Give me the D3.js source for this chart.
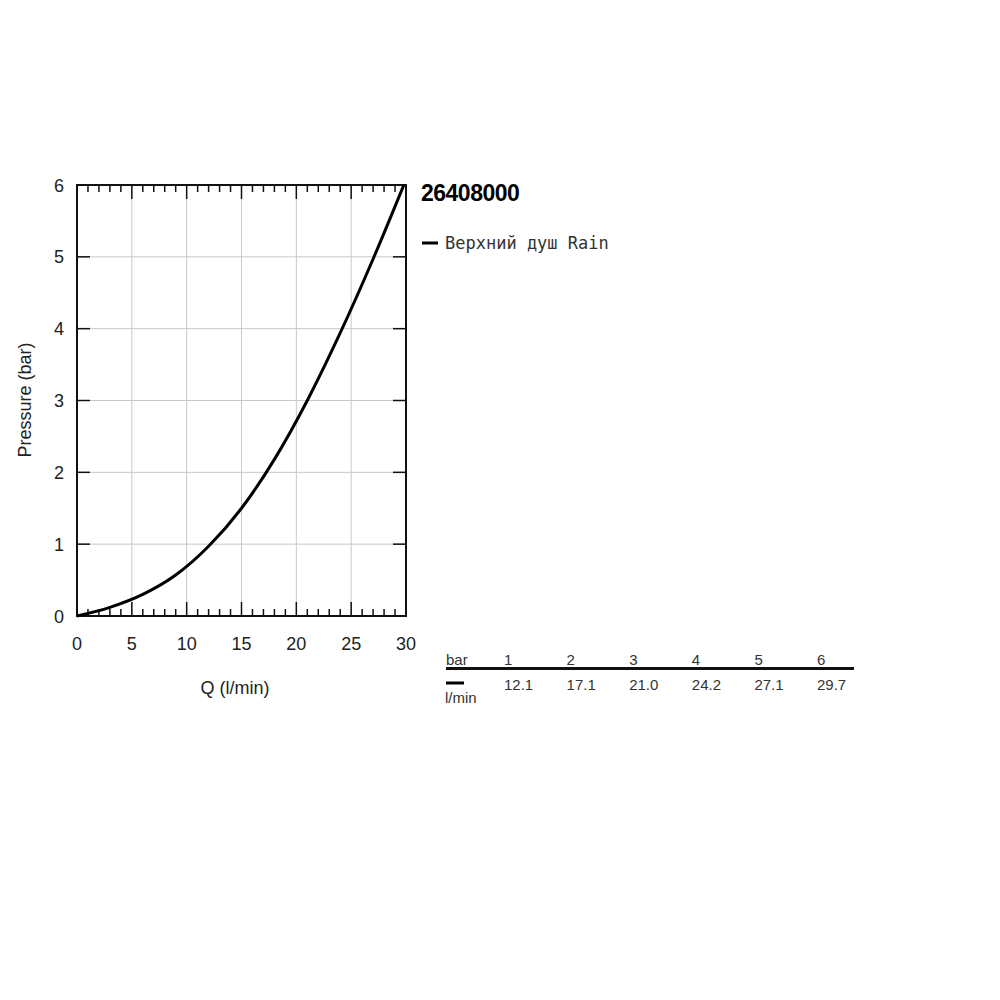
<!DOCTYPE html>
<html>
<head>
<meta charset="utf-8">
<script src="https://cdn.jsdelivr.net/npm/d3@7"></script>
<style>
  body { margin: 0; background: #fff; }
  svg text { font-family: "Liberation Sans", Arial, sans-serif; }
</style>
</head>
<body>
<svg id="chart" width="1000" height="1000"></svg>
<script>
// curve (Q in l/min, pressure in bar)
var flowQ = [0, 3, 6, 9, 12, 15, 18, 21, 24, 27, 29.8];
var pressure = [0, 0.12, 0.30, 0.57, 0.97, 1.50, 2.18, 3.0, 3.94, 4.97, 6];

// table under the legend
var tableBar = ["1", "2", "3", "4", "5", "6"];
var tableFlow = ["12.1", "17.1", "21.0", "24.2", "27.1", "29.7"];

var xTicks = [0, 5, 10, 15, 20, 25, 30];
var yTicks = [0, 1, 2, 3, 4, 5, 6];

var svg = d3.select("#chart");
var pL = 77, pR = 406, pT = 185, pB = 616;

var x = d3.scaleLinear().domain([0, 30]).range([pL, pR]);
var y = d3.scaleLinear().domain([0, 6]).range([pB, pT]);

// grid
svg.append("g").selectAll("line")
  .data(xTicks.slice(1, -1)).enter().append("line")
  .attr("x1", d => x(d)).attr("x2", d => x(d))
  .attr("y1", pT).attr("y2", pB)
  .style("stroke", "#c8c8c8").style("stroke-width", 1);
svg.append("g").selectAll("line")
  .data(yTicks.slice(1, -1)).enter().append("line")
  .attr("x1", pL).attr("x2", pR)
  .attr("y1", d => y(d)).attr("y2", d => y(d))
  .style("stroke", "#c8c8c8").style("stroke-width", 1);

// x ticks, top and bottom, pointing inward
var minor = d3.range(0, 31);
svg.append("g").selectAll("line")
  .data(minor).enter().append("line")
  .attr("x1", d => x(d)).attr("x2", d => x(d))
  .attr("y1", pB).attr("y2", d => pB - (d % 5 == 0 ? 14 : 7))
  .style("stroke", "#111").style("stroke-width", 1.5);
svg.append("g").selectAll("line")
  .data(minor).enter().append("line")
  .attr("x1", d => x(d)).attr("x2", d => x(d))
  .attr("y1", pT).attr("y2", d => pT + (d % 5 == 0 ? 14 : 7))
  .style("stroke", "#111").style("stroke-width", 1.5);

// y ticks left and right
svg.append("g").selectAll("line")
  .data(yTicks).enter().append("line")
  .attr("x1", pL).attr("x2", pL + 13)
  .attr("y1", d => y(d)).attr("y2", d => y(d))
  .style("stroke", "#111").style("stroke-width", 1.5);
svg.append("g").selectAll("line")
  .data(yTicks).enter().append("line")
  .attr("x1", pR - 13).attr("x2", pR)
  .attr("y1", d => y(d)).attr("y2", d => y(d))
  .style("stroke", "#111").style("stroke-width", 1.5);

// frame
svg.append("rect")
  .attr("x", pL).attr("y", pT)
  .attr("width", pR - pL).attr("height", pB - pT)
  .style("fill", "none").style("stroke", "#111").style("stroke-width", 2);

// tick labels
svg.append("g").selectAll("text")
  .data(xTicks).enter().append("text")
  .attr("x", d => x(d)).attr("y", 650)
  .attr("text-anchor", "middle")
  .style("font-size", "18px").style("fill", "#222")
  .text(d => d);
svg.append("g").selectAll("text")
  .data(yTicks).enter().append("text")
  .attr("x", 64).attr("y", d => y(d) + 6.5)
  .attr("text-anchor", "end")
  .style("font-size", "18px").style("fill", "#222")
  .text(d => d);

// axis titles
svg.append("text")
  .attr("x", 235).attr("y", 694)
  .attr("text-anchor", "middle")
  .style("font-size", "18px").style("fill", "#222")
  .text("Q (l/min)");
svg.append("text")
  .attr("transform", "translate(31,400) rotate(-90)")
  .attr("text-anchor", "middle")
  .style("font-size", "18px").style("fill", "#222")
  .text("Pressure (bar)");

// curve
var pts = flowQ.map((q, i) => [q, pressure[i]]);
var line = d3.line()
  .x(d => x(d[0])).y(d => y(d[1]))
  .curve(d3.curveMonotoneX);
svg.append("path")
  .datum(pts)
  .attr("d", line)
  .style("fill", "none").style("stroke", "#000").style("stroke-width", 3);

// title + legend
svg.append("text")
  .attr("x", 421).attr("y", 201)
  .style("font-size", "23px").style("font-weight", "bold")
  .style("letter-spacing", "-0.5px").style("fill", "#000")
  .text("26408000");
svg.append("line")
  .attr("x1", 422).attr("x2", 438).attr("y1", 243).attr("y2", 243)
  .style("stroke", "#000").style("stroke-width", 3);
svg.append("text")
  .attr("x", 445).attr("y", 249)
  .style("font-family", "'DejaVu Sans Mono', monospace")
  .style("font-size", "17px").style("fill", "#333")
  .text("Верхний душ Rain");

// table
var col = d3.scalePoint().domain(tableBar).range([504, 817]);
svg.append("text")
  .attr("x", 446).attr("y", 665)
  .style("font-size", "15px").style("fill", "#333")
  .text("bar");
svg.append("line")
  .attr("x1", 446).attr("x2", 854).attr("y1", 668.5).attr("y2", 668.5)
  .style("stroke", "#111").style("stroke-width", 3);
svg.append("g").selectAll("text")
  .data(tableBar).enter().append("text")
  .attr("x", d => col(d)).attr("y", 665)
  .style("font-size", "15px").style("fill", "#333")
  .text(d => d);
svg.append("g").selectAll("text")
  .data(tableFlow).enter().append("text")
  .attr("x", (d, i) => col(tableBar[i])).attr("y", 690)
  .style("font-size", "15px").style("fill", "#333")
  .text(d => d);
svg.append("line")
  .attr("x1", 446).attr("x2", 464).attr("y1", 683).attr("y2", 683)
  .style("stroke", "#000").style("stroke-width", 3);
svg.append("text")
  .attr("x", 445).attr("y", 703)
  .style("font-size", "15px").style("fill", "#333")
  .text("l/min");
</script>
</body>
</html>
